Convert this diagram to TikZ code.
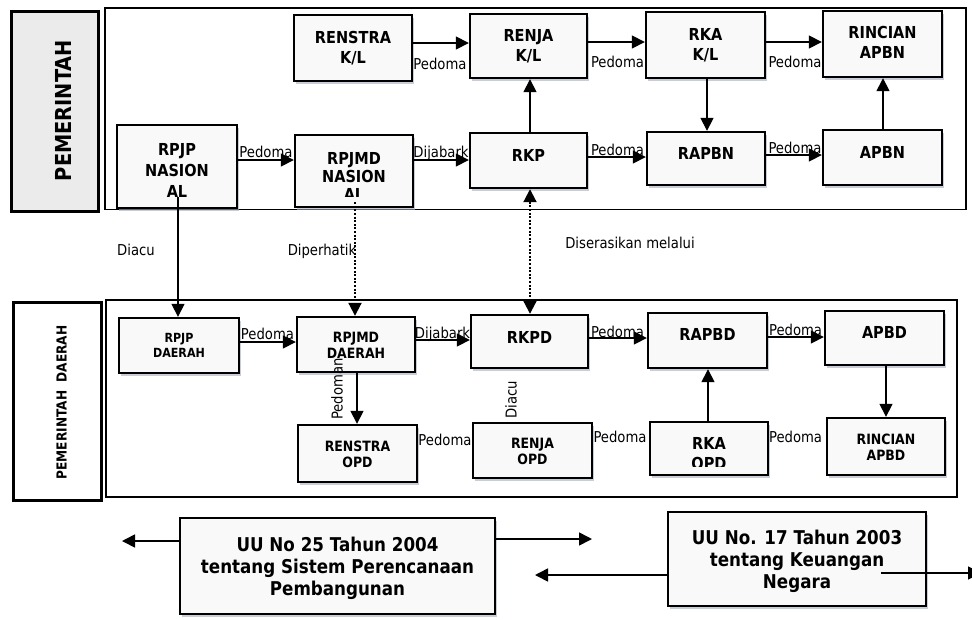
\documentclass[tikz,border=0pt]{standalone}
\usepackage{fontspec}
\setmainfont{DejaVu Sans}
\newfontfamily\bxfont{DejaVu Sans}[FakeStretch=0.88]
\usetikzlibrary{arrows.meta,shadows,calc}
\definecolor{boxfill}{gray}{0.975}
\definecolor{shade}{RGB}{165,172,190}
\newcommand\sh[2]{\raisebox{#1}[\height][\depth]{\begin{tabular}{@{}c@{}}#2\end{tabular}}}
\newcommand\fsz[2]{\fontsize{#1}{#2}\selectfont}
\begin{document}
\begin{tikzpicture}[x=1pt,y=-1pt,
  >={Triangle[length=13pt,width=13pt]},
  box/.style={draw, line width=2.4pt, fill=boxfill, inner sep=0pt,
    drop shadow={shadow xshift=2pt, shadow yshift=-3pt, fill=shade, opacity=.6},
    font=\bxfont\bfseries\fsz{16.5}{20}},
  sbox/.style={box, font=\bxfont\bfseries\fsz{14.2}{16}},
  uubox/.style={box, font=\bxfont\bfseries\fsz{19}{22}},
  arr/.style={line width=1.6pt, ->},
  dotarr/.style={line width=2pt, dash pattern=on 2pt off 1.6pt, ->},
  lab/.style={font=\bxfont\fsz{15}{18}, inner sep=0pt, anchor=base},
  frame/.style={draw, line width=1.6pt},
  side/.style={draw, line width=3pt, inner sep=0pt}]
\useasboundingbox (0,0) rectangle (972,619);
\fill[white] (0,0) rectangle (972,619);

% frames
\draw[frame] (105,8) rectangle (966,209.5);
\draw[frame] (106,300) rectangle (957,497);

% side label boxes
\node[side, fill=black!8, minimum width=87pt, minimum height=200pt] (pem) at (54.5,111) {};
\node[font=\bxfont\bfseries\fsz{22}{24}, rotate=90, inner sep=0pt] (pemT) at (63.5,110.5) {PEMERINTAH};
\node[side, fill=white, minimum width=88pt, minimum height=198pt] (pemd) at (57,401) {};
\node[font=\bxfont\bfseries\fsz{13.8}{16}, rotate=90, inner sep=0pt] (pemdT) at (61.5,402.5) {PEMERINTAH\ \ DAERAH};

% top boxes
\node[box, minimum width=118pt, minimum height=66pt] (renstrakl) at (353,48) {\sh{-1.5pt}{RENSTRA\\K/L}};
\node[box, minimum width=117pt, minimum height=64pt] (renjakl) at (528.5,46) {\sh{-1pt}{RENJA\\K/L}};
\node[box, minimum width=119pt, minimum height=66pt] (rkakl) at (705.5,45) {\sh{-1pt}{RKA\\K/L}};
\node[box, minimum width=119pt, minimum height=66pt] (rincianapbn) at (882.5,44) {\sh{0pt}{RINCIAN\\APBN}};
\node[box, minimum width=120pt, minimum height=83pt] (rpjpn) at (177,166.5) {\fsz{16.5}{21}\sh{-6pt}{RPJP\\NASION\\AL}};
\node[box, minimum width=118pt, minimum height=72pt] (rpjmdn) at (354,171) {\fsz{16.5}{18}\sh{-8pt}{RPJMD\\NASION\\AL}};
\fill[boxfill] (296.5,197) rectangle (411.5,205.6);
\node[box, minimum width=117pt, minimum height=55pt] (rkp) at (528.5,160.5) {\sh{3.5pt}{RKP}};
\node[box, minimum width=118pt, minimum height=53pt] (rapbn) at (706,158.5) {\sh{3pt}{RAPBN}};
\node[box, minimum width=119pt, minimum height=55pt] (apbn) at (882.5,157.5) {\sh{3pt}{APBN}};

% lower boxes
\node[box, font=\bxfont\bfseries\fsz{12.6}{15}, minimum width=120pt, minimum height=55pt] (rpjpd) at (179,345.5) {\sh{-1.5pt}{RPJP\\DAERAH}};
\node[sbox, minimum width=118pt, minimum height=55pt] (rpjmdd) at (356,344.5) {\sh{-2.5pt}{RPJMD\\DAERAH}};
\node[box, minimum width=117pt, minimum height=53pt] (rkpd) at (529.5,341.5) {\sh{2pt}{RKPD}};
\node[box, minimum width=119pt, minimum height=55pt] (rapbd) at (707.5,340.5) {\sh{4.5pt}{RAPBD}};
\node[box, minimum width=119pt, minimum height=54pt] (apbd) at (884.5,338) {\sh{3.5pt}{APBD}};
\node[sbox, minimum width=119pt, minimum height=57pt] (renstraopd) at (357.5,453.5) {\sh{-2.5pt}{RENSTRA\\OPD}};
\node[sbox, minimum width=119pt, minimum height=55pt] (renjaopd) at (532.5,450.5) {\sh{-3pt}{RENJA\\OPD}};
\node[box, minimum width=118pt, minimum height=53pt] (rkaopd) at (709,448.5) {\sh{-6.5pt}{RKA\\OPD}};
\fill[boxfill] (651.3,466.5) rectangle (766.7,473.7);
\node[sbox, minimum width=118pt, minimum height=57pt] (rincianapbd) at (886,446.5) {\sh{-3pt}{RINCIAN\\APBD}};

% law boxes
\node[uubox, minimum width=315pt, minimum height=96pt] (uu25) at (337.5,566) {\sh{-3pt}{UU No 25 Tahun 2004\\tentang Sistem Perencanaan\\Pembangunan}};
\node[uubox, minimum width=258pt, minimum height=94pt] (uu17) at (797,559) {\sh{-3pt}{UU No. 17 Tahun 2003\\tentang Keuangan\\Negara}};

% connectors top
\draw[arr] (renstrakl.east |- 0,43) -- (renjakl.west |- 0,43);
\draw[arr] (renjakl.east |- 0,42) -- (rkakl.west |- 0,42);
\draw[arr] (rkakl.east |- 0,42) -- (rincianapbn.west |- 0,42);
\draw[arr] (rpjpn.east |- 0,160) -- (rpjmdn.west |- 0,160);
\draw[arr] (rpjmdn.east |- 0,160) -- (rkp.west |- 0,160);
\draw[arr] (rkp.east |- 0,157) -- (rapbn.west |- 0,157);
\draw[arr] (rapbn.east |- 0,155) -- (apbn.west |- 0,155);
\draw[arr] (rkp.north -| 530,0) -- (renjakl.south -| 530,0);
\draw[arr] (rkakl.south -| 707,0) -- (rapbn.north -| 707,0);
\draw[arr] (apbn.north -| 883,0) -- (rincianapbn.south -| 883,0);

% connectors between levels
\draw[arr] ($(rpjpn.south)+(1,-12)$) -- (rpjpd.north -| 178,0);
\draw[dotarr] ($(rpjmdn.south)+(1,-6)$) -- (rpjmdd.north -| 355,0);
\draw[dotarr, <->] (rkp.south -| 530,0) -- (rkpd.north -| 530,0);

% connectors lower
\draw[arr] (rpjpd.east |- 0,342) -- (rpjmdd.west |- 0,342);
\draw[arr] (rpjmdd.east |- 0,340) -- (rkpd.west |- 0,340);
\draw[arr] (rkpd.east |- 0,338) -- (rapbd.west |- 0,338);
\draw[arr] (rapbd.east |- 0,337) -- (apbd.west |- 0,337);
\draw[arr] (rpjmdd.south -| 357,0) -- (renstraopd.north -| 357,0);
\draw[arr] (rkaopd.north -| 708,0) -- (rapbd.south -| 708,0);
\draw[arr] (apbd.south -| 886,0) -- (rincianapbd.north -| 886,0);

% law arrows
\coordinate (uuL) at (122,541);
\coordinate (uuR) at (592,539);
\coordinate (uu17L) at (535,575);
\coordinate (uu17R) at (981,573);
\draw[arr] (uu25.west |- 0,541) -- (uuL);
\draw[arr] (uu25.east |- 0,539) -- (uuR);
\draw[arr] (uu17.west |- 0,575) -- (uu17L);
\draw[arr] ($(uu17.east |- 0,573)+(-46,0)$) -- (uu17R);

% labels
\node[lab] (l1) at (440,69) {Pedoma};
\node[lab] (l2) at (617.5,67) {Pedoma};
\node[lab] (l3) at (795,67) {Pedoma};
\node[lab] (l4) at (266,157) {Pedoma};
\node[lab] (l5) at (441,157) {Dijabark};
\node[lab] (l6) at (617.5,155) {Pedoma};
\node[lab] (l7) at (795,153) {Pedoma};
\node[lab] (l8) at (136,255) {Diacu};
\node[lab] (l9) at (322,255) {Diperhatik};
\node[lab] (l10) at (630,248) {Diserasikan melalui};
\node[lab] (l11) at (267.5,339) {Pedoma};
\node[lab] (l12) at (442.5,338) {Dijabark};
\node[lab] (l13) at (617.5,337) {Pedoma};
\node[lab] (l14) at (795.5,335) {Pedoma};
\node[lab, rotate=90, anchor=center] (l15) at (337,389) {Pedoman};
\node[lab, rotate=90, anchor=center] (l16) at (511,400) {Diacu};
\node[lab] (l17) at (445,445) {Pedoma};
\node[lab] (l18) at (620,442) {Pedoma};
\node[lab] (l19) at (795.5,442) {Pedoma};
\end{tikzpicture}
\end{document}
